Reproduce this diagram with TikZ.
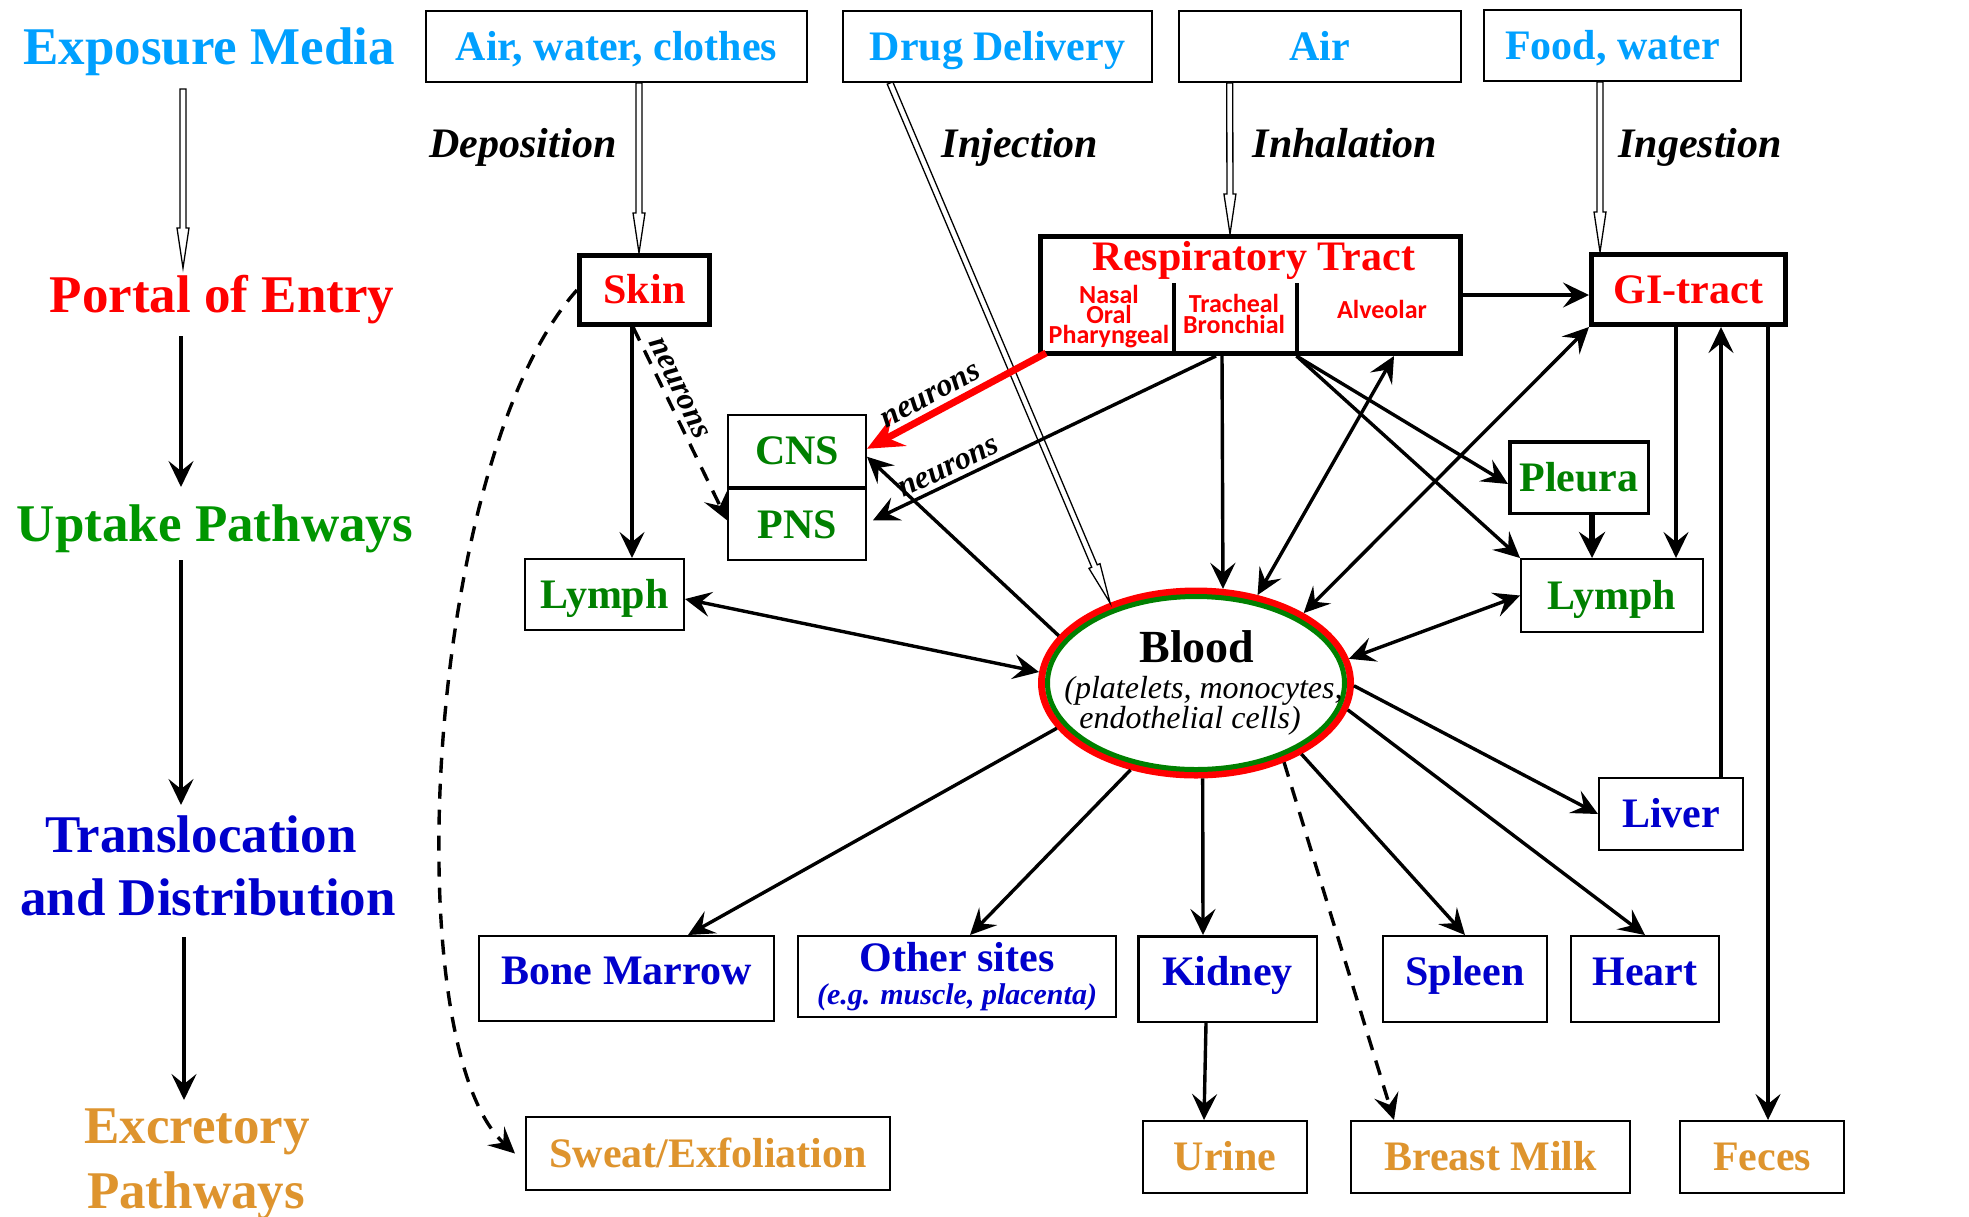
\documentclass[tikz,border=0pt]{standalone}
\usepackage{fontspec}
\setmainfont{Liberation Serif}
\newfontfamily\calibfont{Carlito}
\usetikzlibrary{arrows.meta,calc,shapes.geometric}

\definecolor{expblue}{RGB}{0,160,255}
\definecolor{entred}{RGB}{255,0,0}
\definecolor{upgreen}{RGB}{0,150,0}
\definecolor{nodegreen}{RGB}{0,128,0}
\definecolor{disblue}{RGB}{0,0,204}
\definecolor{excorange}{RGB}{222,148,46}

\tikzset{
  stage/.style={font=\fontsize{53}{60}\selectfont\bfseries, inner sep=0pt, anchor=base},
  route/.style={font=\fontsize{42}{48}\selectfont\bfseries\itshape, inner sep=0pt, anchor=base},
  box/.style={draw, rectangle, line width=2pt, inner sep=0pt,
    font=\fontsize{42}{48}\selectfont\bfseries},
  tbox/.style={box, text height=27.7pt, text depth=0pt},
  lowbox/.style={box, text height=27.7pt, text depth=15pt},
  heavybox/.style={tbox, line width=5pt},
  subtext/.style={font=\calibfont\bfseries\fontsize{26}{26}\selectfont, text=entred, inner sep=0pt, anchor=base},
  tip/.style={},
  arr/.style={line width=3.4pt, -{Stealth[length=26pt,width=25pt,inset=10pt]}},
  biarr/.style={line width=3.4pt, {Stealth[length=26pt,width=25pt,inset=10pt]}-{Stealth[length=26pt,width=25pt,inset=10pt]}},
  dasharr/.style={arr, dash pattern=on 15pt off 11pt},
  redarr/.style={draw=entred, line width=7pt, -{Stealth[length=36pt,width=32pt,inset=13pt]}},
  fatarr/.style={line width=6.5pt, -{Stealth[length=26pt,width=26pt,inset=9pt]}},
  nlabel/.style={font=\fontsize{32}{36}\selectfont\bfseries\itshape, sloped, anchor=south, inner sep=5pt},
  hollowshape/.style={draw=black, fill=white, line width=1.3pt, line join=miter},
}

% double-lined shaft with a long open triangular head
\newcommand{\hollowarrow}[2]{%
  \coordinate (hatail) at (#1);
  \coordinate (hatip) at (#2);
  \coordinate (habase) at ($(hatip)!40pt!(hatail)$);
  \draw[hollowshape]
    ($(hatail)!3pt!90:(hatip)$) -- ($(habase)!3pt!90:(hatip)$)
    -- ($(habase)!6pt!90:(hatip)$) -- (hatip)
    -- ($(habase)!6pt!-90:(hatip)$) -- ($(habase)!3pt!-90:(hatip)$)
    -- ($(hatail)!3pt!-90:(hatip)$) -- cycle;
}

\begin{document}
\begin{tikzpicture}[x=1pt,y=-1pt]
\fill[white] (0,0) rectangle (1969,1216);
\useasboundingbox (0,0) rectangle (1969,1216);

% ---------- stage column ----------
\node[stage, text=expblue] (expo) at (209,64) {Exposure Media};
\node[stage, text=entred] (portal) at (222,312) {Portal of Entry};
\node[stage, text=upgreen] (uptake) at (215,541) {Uptake Pathways};
\node[stage, text=disblue] (transA) at (201,852) {Translocation};
\node[stage, text=disblue] (transB) at (208,915) {and Distribution};
\node[stage, text=excorange] (excA) at (197,1143) {Excretory};
\node[stage, text=excorange] (excB) at (196,1208) {Pathways};

\hollowarrow{[xshift=-26pt,yshift=-25pt]expo.base}{[xshift=-39pt,yshift=44pt]portal.base}
\draw[arr] ([xshift=-41pt,yshift=-24pt]portal.base) -- ([xshift=-34pt,yshift=54pt]uptake.base);
\draw[arr] ([xshift=-34pt,yshift=-19pt]uptake.base) -- ([xshift=-20pt,yshift=47pt]transA.base);
\draw[arr] ([xshift=-24pt,yshift=-22pt]transB.base) -- ([xshift=-13pt,yshift=43pt]excA.base);

% ---------- exposure media ----------
\node[tbox, text=expblue, minimum width=381pt, minimum height=71pt] (airwc) at (616.5,46.5) {Air, water, clothes};
\node[tbox, text=expblue, minimum width=309pt, minimum height=71pt] (drug) at (997.5,46.5) {Drug Delivery};
\node[tbox, text=expblue, minimum width=282.5pt, minimum height=71pt] (air) at (1319.75,46.5) {Air};
\node[tbox, text=expblue, minimum width=257pt, minimum height=71pt] (food) at (1612.5,45.5) {Food, water};

\node[route] (depo) at (523,157) {Deposition};
\node[route] (inj) at (1020,157) {Injection};
\node[route] (inh) at (1345,157) {Inhalation};
\node[route] (ing) at (1700,157) {Ingestion};

% ---------- portals of entry ----------
\node[heavybox, text=entred, minimum width=130pt, minimum height=69pt] (skin) at (644.5,290) {Skin};
\node[draw, rectangle, line width=5pt, inner sep=0pt, minimum width=420pt, minimum height=117pt] (resp) at (1250.5,295) {};
\node[font=\fontsize{42}{48}\selectfont\bfseries, text=entred, inner sep=0pt, anchor=base] (rtitle) at (1254,270) {Respiratory Tract};
\draw[line width=3.5pt] ([xshift=-76.5pt]resp.south) -- ([xshift=-76.5pt,yshift=73pt]resp.south);
\draw[line width=3.5pt] ([xshift=46.5pt]resp.south) -- ([xshift=46.5pt,yshift=73pt]resp.south);
\node[subtext] (nasal) at (1109,303) {Nasal};
\node[subtext] (oral) at (1109,323) {Oral};
\node[subtext] (phar) at (1109,343) {Pharyngeal};
\node[subtext] (trach) at (1234,312) {Tracheal};
\node[subtext] (bronch) at (1234,333) {Bronchial};
\node[subtext] (alv) at (1382,318) {Alveolar};
\node[heavybox, text=entred, minimum width=194pt, minimum height=70pt] (gi) at (1688.5,289.5) {GI-tract};

% ---------- uptake ----------
\node[tbox, text=nodegreen, minimum width=138pt, minimum height=71.5pt] (cns) at (797,450.75) {CNS};
\node[tbox, text=nodegreen, minimum width=138pt, minimum height=71.5pt] (pns) at (797,524.25) {PNS};
\node[tbox, text=nodegreen, minimum width=159pt, minimum height=71pt] (lymphL) at (604.5,594.5) {Lymph};
\node[tbox, text=nodegreen, minimum width=182pt, minimum height=73pt] (lymphR) at (1612,595.5) {Lymph};
\node[tbox, text=nodegreen, line width=3.5pt, minimum width=138.5pt, minimum height=71.5pt] (pleura) at (1579,477.5) {Pleura};

% ---------- blood ----------
\node[ellipse, draw=entred, line width=7pt, fill=white, inner sep=0pt, minimum width=309pt, minimum height=184pt] (blood) at (1196,683) {};
\draw[nodegreen, line width=5pt] (blood.center) ellipse [x radius=148.5pt, y radius=86.5pt];
\node[font=\fontsize{46}{50}\selectfont\bfseries, inner sep=0pt, anchor=base] (bloodtitle) at (1197,662) {Blood};
\node[font=\fontsize{32}{36}\selectfont\itshape, inner sep=0pt, anchor=base] (bloodsubA) at (1203.5,698) {(platelets, monocytes,};
\node[font=\fontsize{32}{36}\selectfont\itshape, inner sep=0pt, anchor=base] (bloodsubB) at (1190,728) {endothelial cells)};

% ---------- distribution ----------
\node[tbox, text=disblue, minimum width=144pt, minimum height=72pt] (liver) at (1671,814) {Liver};
\node[lowbox, text=disblue, minimum width=295pt, minimum height=85pt] (bone) at (626.5,978.5) {Bone Marrow};
\node[box, text=disblue, align=center, font=\fontsize{42}{33}\selectfont\bfseries, minimum width=318pt, minimum height=81pt] (other) at (957,976.5)
  {Other sites\\{\fontsize{30}{33}\selectfont\itshape (e.g. muscle, placenta)}};
\node[lowbox, text=disblue, line width=2.5pt, minimum width=178.5pt, minimum height=85.5pt] (kidney) at (1227.5,979) {Kidney};
\node[lowbox, text=disblue, minimum width=164pt, minimum height=86pt] (spleen) at (1465,979) {Spleen};
\node[lowbox, text=disblue, minimum width=148pt, minimum height=86pt] (heart) at (1645,979) {Heart};

% ---------- excretion ----------
\node[tbox, text=excorange, minimum width=364pt, minimum height=73pt] (sweat) at (708,1153.5) {Sweat/Exfoliation};
\node[tbox, text=excorange, minimum width=164pt, minimum height=72pt] (urine) at (1225,1157) {Urine};
\node[tbox, text=excorange, minimum width=279pt, minimum height=72pt] (breast) at (1490.5,1157) {Breast Milk};
\node[tbox, text=excorange, minimum width=164pt, minimum height=72pt] (feces) at (1762,1157) {Feces};

% ---------- exposure routes ----------
\hollowarrow{[xshift=22.5pt]airwc.south}{[xshift=-5.5pt]skin.north}
\hollowarrow{[xshift=-107.5pt]drug.south}{blood.137.8}
\hollowarrow{[xshift=-90pt]air.south}{[xshift=-20.5pt]resp.north}
\hollowarrow{[xshift=-12.5pt]food.south}{[xshift=-88.5pt]gi.north}

% ---------- from skin ----------
\draw[arr] ([xshift=-12.5pt]skin.south) -- ([xshift=27.5pt]lymphL.north);
\draw[dasharr] ([xshift=-11.5pt]skin.south) -- node[nlabel, pos=0.35] {neurons} ([yshift=4pt]pns.west);
\draw[dasharr] (skin.west) .. controls +(-152,170) and +(-120,-110) .. ([xshift=-10pt]sweat.west);

% ---------- from respiratory tract ----------
\draw[redarr] ([xshift=8pt,yshift=3pt]resp.south west) -- node[nlabel, text=black, pos=0.6] {neurons} ([yshift=2pt]cns.east);
\draw[arr] ([xshift=-34.5pt]resp.south) -- node[nlabel, pos=0.76] {neurons} ([xshift=6pt,yshift=4pt]pns.east);
\draw[arr] ([xshift=-28.5pt]resp.south) -- (blood.74.7);
\draw[biarr] ([xshift=143.5pt]resp.south) -- (blood.55.4);
\draw[arr] ([xshift=46pt]resp.south) -- ([yshift=-6.5pt]pleura.west);
\draw[arr] ([xshift=46pt]resp.south) -- (lymphR.north west);
\draw[arr] (resp.east) -- (resp.east -| gi.west);

% ---------- GI tract and lymph ----------
\draw[biarr] (gi.south west) -- (blood.33.4);
\draw[arr] ([xshift=-12.5pt]gi.south) -- ([xshift=64pt]lymphR.north);
\draw[arr] ([xshift=50pt]liver.north) -- ([xshift=32.5pt]gi.south);
\draw[arr] ([xshift=79.5pt]gi.south) -- ([xshift=6pt]feces.north);
\draw[fatarr] ([xshift=13pt]pleura.south) -- ([xshift=-20pt]lymphR.north);
\draw[biarr] (lymphR.west) -- (blood.9.6);
\draw[biarr] ([yshift=-4.5pt]lymphL.east) -- (blood.176.3);

% ---------- from blood ----------
\draw[arr] (blood.161.6) -- ([yshift=-6pt]cns.east);
\draw[arr] (blood.198) -- ([xshift=61.5pt]bone.north);
\draw[arr] (blood.233.2) -- ([xshift=13pt]other.north);
\draw[arr] (blood.274.2) -- ([xshift=-24.5pt]kidney.north);
\draw[arr] (blood.-34) -- (spleen.north);
\draw[arr] (blood.-10.1) -- (heart.north);
\draw[arr] (blood.-1.5) -- (liver.west);
\draw[dasharr] (blood.-42.7) -- ([xshift=-96.5pt]breast.north);
\draw[arr] ([xshift=-21.5pt]kidney.south) -- ([xshift=-21pt]urine.north);
\end{tikzpicture}
\end{document}
